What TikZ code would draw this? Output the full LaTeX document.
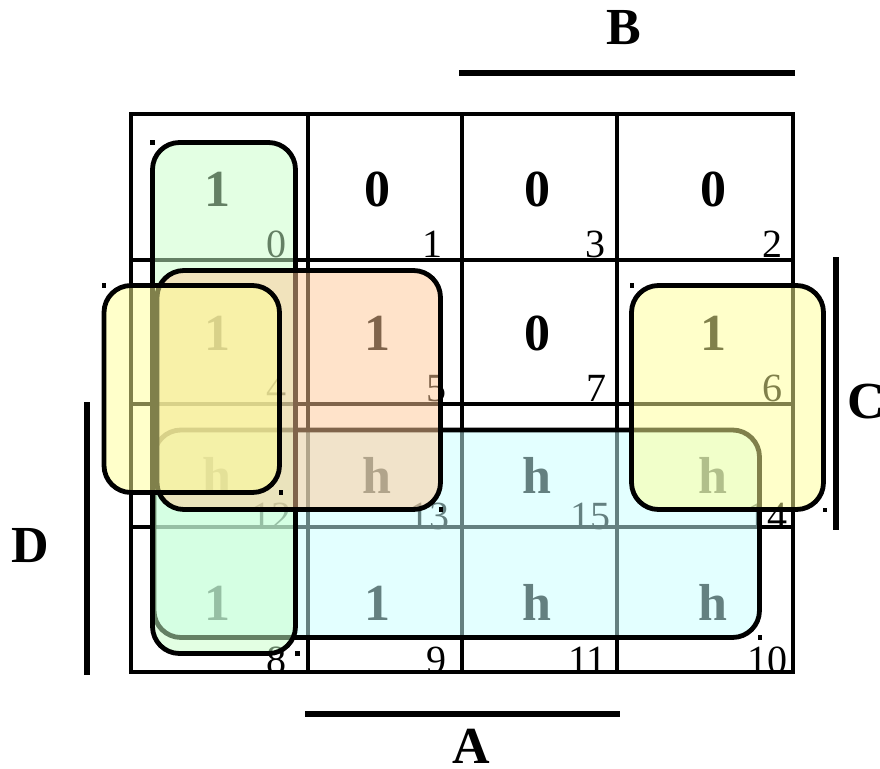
\documentclass[tikz,border=0pt]{standalone}
\usepackage{fontspec}
\setmainfont{Liberation Serif}
\begin{document}
\begin{tikzpicture}[x=1pt,y=-1pt,
  gridline/.style={line width=4.6pt,line cap=rect},
  bar/.style={line width=6pt},
  val/.style={inner sep=0pt,anchor=base,font=\bfseries\fontsize{52}{52}\selectfont},
  num/.style={inner sep=0pt,anchor=base east,font=\fontsize{40}{40}\selectfont},
  lbl/.style={inner sep=0pt,anchor=base,font=\bfseries\fontsize{52}{52}\selectfont},
  grp/.style={draw=black,line width=4.8pt,rounded corners=27pt,fill opacity=0.5,draw opacity=1},
  cornerdot/.style={fill=black,inner sep=0pt,minimum size=4.5pt,draw=none}]
\definecolor{gG}{RGB}{200,255,200}
\definecolor{gC}{RGB}{200,255,255}
\definecolor{gO}{RGB}{255,200,150}
\definecolor{gY}{RGB}{255,255,150}
\useasboundingbox (0,0) rectangle (880,768);
\fill[white] (0,0) rectangle (880,768);
% grid
\draw[gridline] (131,114) rectangle (793,672);
\foreach \x in {308,462,617} \draw[gridline] (\x,114) -- (\x,672);
\foreach \y in {260,404,527} \draw[gridline] (131,\y) -- (793,\y);
% values
\node[val] (v0)  at (217,206) {1};
\node[val] (v1)  at (377,206) {0};
\node[val] (v3)  at (537,206) {0};
\node[val] (v2)  at (713,206) {0};
\node[val] (v4)  at (217,350) {1};
\node[val] (v5)  at (377,350) {1};
\node[val] (v7)  at (537,350) {0};
\node[val] (v6)  at (713,350) {1};
\node[val] (v12) at (217,493) {h};
\node[val] (v13) at (377,493) {h};
\node[val] (v15) at (537,493) {h};
\node[val] (v14) at (713,493) {h};
\node[val] (v8)  at (217,620) {1};
\node[val] (v9)  at (377,620) {1};
\node[val] (v11) at (537,620) {h};
\node[val] (v10) at (713,620) {h};
% cell numbers
\node[num] (n0)  at (287,257) {0};
\node[num] (n1)  at (443,257) {1};
\node[num] (n3)  at (606,257) {3};
\node[num] (n2)  at (783,257) {2};
\node[num] (n4)  at (287,401) {4};
\node[num] (n5)  at (447,401) {5};
\node[num] (n7)  at (607,401) {7};
\node[num] (n6)  at (783,401) {6};
\node[num] (n12) at (292,529) {12};
\node[num] (n13) at (450,529) {13};
\node[num] (n15) at (611,529) {15};
\node[num] (n14) at (788,529) {14};
\node[num] (n8)  at (287,673) {8};
\node[num] (n9)  at (447,673) {9};
\node[num] (n11) at (607,673) {11};
\node[num] (n10) at (788,673) {10};
% groups
\draw[grp,fill=gC] (154,430) rectangle (759.5,637.5);
\node[cornerdot] (mc1) at (154,430) {};
\node[cornerdot] (mc2) at (760,637.5) {};
\draw[grp,fill=gG] (152.5,142.5) rectangle (295.5,653.5);
\node[cornerdot] (mg1) at (152.5,142.5) {};
\node[cornerdot] (mg2) at (297.5,653.5) {};
\draw[grp,fill=gO] (157,270.5) rectangle (440.5,509.5);
\node[cornerdot] (mo1) at (153,270.5) {};
\node[cornerdot] (mo2) at (441,509.5) {};
\draw[grp,fill=gY] (104,285.5) rectangle (279.5,492.5);
\node[cornerdot] (my1) at (104,285.5) {};
\node[cornerdot] (my2) at (281,492.5) {};
\draw[grp,fill=gY] (631.5,285.5) rectangle (823.5,509.5);
\node[cornerdot] (mr1) at (632,285.5) {};
\node[cornerdot] (mr2) at (825,510) {};
% variable bars and labels
\coordinate (b1) at (459,73); \coordinate (b2) at (795,73);
\coordinate (c1) at (836,257); \coordinate (c2) at (836,530);
\coordinate (d1) at (87,402); \coordinate (d2) at (87,675);
\coordinate (a1) at (305,714); \coordinate (a2) at (620,714);
\draw[bar] (b1) -- (b2);
\draw[bar] (c1) -- (c2);
\draw[bar] (d1) -- (d2);
\draw[bar] (a1) -- (a2);
\node[lbl] (B) at (624,45) {B};
\node[lbl] (C) at (866,418) {C};
\node[lbl] (D) at (30,562) {D};
\node[lbl] (A) at (471,763) {A};
\end{tikzpicture}
\end{document}
